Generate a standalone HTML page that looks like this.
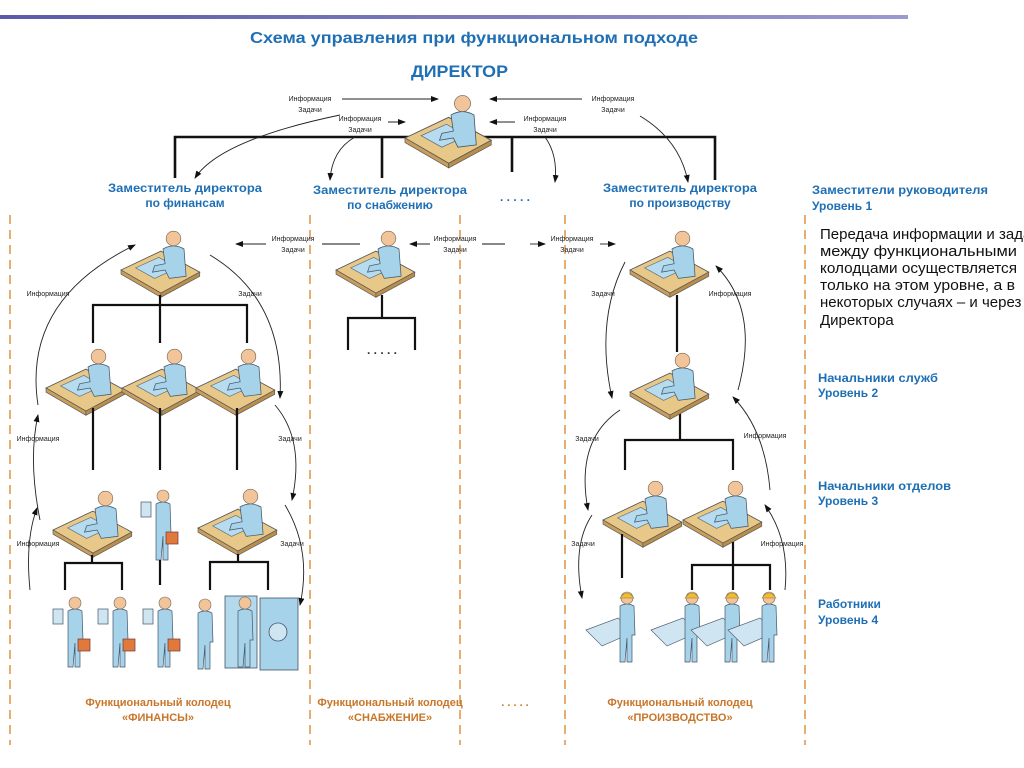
<!DOCTYPE html>
<html><head><meta charset="utf-8"><style>
html,body{margin:0;padding:0;background:#fff;width:1024px;height:768px;overflow:hidden}
svg{display:block}
text{font-family:"Liberation Sans",sans-serif}
.t{fill:#1f6fb5;font-weight:bold;font-size:12px}
.s{font-size:7px;fill:#222}
.o{fill:#c8762a;font-weight:bold;font-size:11px}
.k{stroke:#111;stroke-width:2.2;fill:none}
.a{stroke:#222;stroke-width:0.9;fill:none;marker-end:url(#ar)}
.d{stroke:#e39a4e;stroke-width:1.6;stroke-dasharray:9,6}
.b{fill:#111;font-size:15px}
</style></head><body>
<svg width="1024" height="768" viewBox="0 0 1024 768">
<defs>
<marker id="ar" markerWidth="8" markerHeight="8" refX="7" refY="4" orient="auto" markerUnits="userSpaceOnUse"><path d="M0,1 L8,4 L0,7 Z" fill="#111"/></marker>
<linearGradient id="pl" x1="0" x2="1"><stop offset="0" stop-color="#5a5aa8"/><stop offset="1" stop-color="#9a9ad0"/></linearGradient>
<g id="dp">
<path d="M0,40 L38,22 L75,42 L38,62 Z" fill="#e8c888" stroke="#555" stroke-width="0.8"/>
<path d="M0,40 L38,62 L38,66 L0,44 Z" fill="#c99e5c" stroke="#555" stroke-width="0.6"/>
<path d="M38,62 L75,42 L75,46 L38,66 Z" fill="#b98e4c" stroke="#555" stroke-width="0.6"/>
<path d="M14,38 L36,28 L54,38 L32,48 Z" fill="#b7dcef" stroke="#567" stroke-width="0.6"/>
<path d="M40,20 Q50,14 60,20 L62,46 L46,48 L42,40 L30,42 L32,36 L42,34 Z" fill="#a6d2ea" stroke="#456" stroke-width="0.7"/>
<circle cx="50" cy="10" r="7" fill="#f1c49a" stroke="#765" stroke-width="0.6"/>
</g>
<g id="sp">
<path d="M8,16 Q15,12 22,16 L23,45 L20,45 L20,72 L15,72 L15,48 L13,72 L8,72 L8,45 Z" fill="#a6d2ea" stroke="#456" stroke-width="0.7"/>
<circle cx="15" cy="8" r="6" fill="#f1c49a" stroke="#765" stroke-width="0.6"/>
</g>
<g id="fp"><use href="#sp"/><rect x="-7" y="14" width="10" height="15" fill="#cfe6f2" stroke="#456" stroke-width="0.7"/><rect x="18" y="44" width="12" height="12" fill="#e07a3c" stroke="#733" stroke-width="0.7"/></g>
<g id="wk"><path d="M-14,40 L18,28 L34,42 L2,56 Z" fill="#cfe6f2" stroke="#567" stroke-width="0.7"/><use href="#sp" transform="translate(12,0)"/><path d="M20,8 Q27,-2 34,8 Z" fill="#f2bf2a" stroke="#875" stroke-width="0.6"/></g>
</defs>
<rect x="0" y="15" width="908" height="4" fill="url(#pl)"/>
<text x="250" y="43" textLength="448" lengthAdjust="spacingAndGlyphs" style="fill:#1f6fb5;font-weight:bold;font-size:16px">Схема управления при функциональном подходе</text>
<text x="411" y="77" textLength="97" lengthAdjust="spacingAndGlyphs" style="fill:#1f6fb5;font-weight:bold;font-size:17px">ДИРЕКТОР</text>

<line class="d" x1="10" y1="215" x2="10" y2="745"/>
<line class="d" x1="310" y1="215" x2="310" y2="745"/>
<line class="d" x1="460" y1="215" x2="460" y2="745"/>
<line class="d" x1="565" y1="215" x2="565" y2="745"/>
<line class="d" x1="805" y1="215" x2="805" y2="745"/>

<path class="k" d="M175,178 V137 H715 V180 M382,137 V178 M512,137 V172" style="stroke-width:2.6"/>
<use href="#dp" transform="translate(405,92) scale(1.15)"/>
<text class="s" x="310" y="101" text-anchor="middle">Информация</text><text class="s" x="310" y="112" text-anchor="middle">Задачи</text>
<path class="a" d="M342,99 H438"/><path class="a" d="M340,115 Q220,140 195,178"/>
<text class="s" x="360" y="121" text-anchor="middle">Информация</text><text class="s" x="360" y="132" text-anchor="middle">Задачи</text>
<path class="a" d="M388,122 H405"/><path class="a" d="M355,137 Q332,150 330,180"/>
<text class="s" x="613" y="101" text-anchor="middle">Информация</text><text class="s" x="613" y="112" text-anchor="middle">Задачи</text>
<path class="a" d="M582,99 H490"/><path class="a" d="M640,116 Q680,140 688,182"/>
<text class="s" x="545" y="121" text-anchor="middle">Информация</text><text class="s" x="545" y="132" text-anchor="middle">Задачи</text>
<path class="a" d="M515,122 H490"/><path class="a" d="M545,137 Q558,155 555,182"/>

<text class="t" x="108" y="192" textLength="154" lengthAdjust="spacingAndGlyphs">Заместитель директора</text><text class="t" x="185" y="207" text-anchor="middle">по финансам</text>
<text class="t" x="313" y="194" textLength="154" lengthAdjust="spacingAndGlyphs">Заместитель директора</text><text class="t" x="390" y="209" text-anchor="middle">по снабжению</text>
<text class="t" x="515" y="201" text-anchor="middle">. . . . .</text>
<text class="t" x="603" y="192" textLength="154" lengthAdjust="spacingAndGlyphs">Заместитель директора</text><text class="t" x="680" y="207" text-anchor="middle">по производству</text>
<text class="t" x="812" y="194" textLength="176" lengthAdjust="spacingAndGlyphs">Заместители руководителя</text><text class="t" x="812" y="210">Уровень 1</text>

<text class="b" x="820" y="239">Передача информации и задач</text>
<text class="b" x="820" y="256" textLength="197" lengthAdjust="spacingAndGlyphs">между функциональными</text>
<text class="b" x="820" y="273" textLength="197" lengthAdjust="spacingAndGlyphs">колодцами осуществляется</text>
<text class="b" x="820" y="290" textLength="195" lengthAdjust="spacingAndGlyphs">только на этом уровне, а в</text>
<text class="b" x="820" y="307">некоторых случаях – и через</text>
<text class="b" x="820" y="325">Директора</text>

<text class="t" x="818" y="382" textLength="120" lengthAdjust="spacingAndGlyphs">Начальники служб</text><text class="t" x="818" y="397">Уровень 2</text>
<text class="t" x="818" y="490" textLength="133" lengthAdjust="spacingAndGlyphs">Начальники отделов</text><text class="t" x="818" y="505">Уровень 3</text>
<text class="t" x="818" y="608">Работники</text><text class="t" x="818" y="624">Уровень 4</text>

<use href="#dp" transform="translate(121,228) scale(1.05)"/>
<use href="#dp" transform="translate(336,228) scale(1.05)"/>
<use href="#dp" transform="translate(630,228) scale(1.05)"/>
<text class="s" x="293" y="241" text-anchor="middle">Информация</text><text class="s" x="293" y="252" text-anchor="middle">Задачи</text>
<path class="a" d="M266,244 H236"/><path class="k" style="stroke-width:0.9" d="M322,244 H360"/>
<text class="s" x="455" y="241" text-anchor="middle">Информация</text><text class="s" x="455" y="252" text-anchor="middle">Задачи</text>
<path class="a" d="M430,244 H410"/><path class="k" style="stroke-width:0.9" d="M482,244 H505"/>
<text class="s" x="572" y="241" text-anchor="middle">Информация</text><text class="s" x="572" y="252" text-anchor="middle">Задачи</text>
<path class="a" d="M530,244 H545"/><path class="a" d="M600,244 H615"/>

<path class="k" d="M382,295 V318 M348,350 V318 H415 V350"/>
<text class="t" x="382" y="354" text-anchor="middle" style="fill:#333">. . . . .</text>

<path class="k" d="M160,295 V305 M93,343 V305 H247 V343 M160,305 V343"/>
<use href="#dp" transform="translate(46,346) scale(1.05)"/><use href="#dp" transform="translate(122,346) scale(1.05)"/><use href="#dp" transform="translate(196,346) scale(1.05)"/>
<path class="k" d="M93,408 V470 M160,408 V470 M237,408 V470"/>
<use href="#dp" transform="translate(53,488) scale(1.05)"/>
<use href="#fp" transform="translate(148,488)"/>
<use href="#dp" transform="translate(198,486) scale(1.05)"/>
<path class="k" d="M92,555 V563 M65,590 V563 H122 V590 M160,560 V585 M238,554 V562 M210,590 V562 H268 V590"/>
<use href="#fp" transform="translate(60,595)"/><use href="#fp" transform="translate(105,595)"/><use href="#fp" transform="translate(150,595)"/>
<use href="#sp" transform="translate(190,597)"/>
<rect x="225" y="596" width="32" height="72" fill="#b3d9ec" stroke="#456" stroke-width="0.8"/>
<use href="#sp" transform="translate(230,595)"/>
<rect x="260" y="598" width="38" height="72" fill="#a6d2ea" stroke="#456" stroke-width="0.8"/>
<circle cx="278" cy="632" r="9" fill="#cfe6f2" stroke="#456" stroke-width="0.8"/>

<text class="s" x="48" y="296" text-anchor="middle">Информация</text>
<path class="a" d="M38,405 Q22,300 135,245"/>
<text class="s" x="38" y="441" text-anchor="middle">Информация</text>
<path class="a" d="M40,520 Q28,460 38,415"/>
<text class="s" x="38" y="546" text-anchor="middle">Информация</text>
<path class="a" d="M30,590 Q25,540 37,508"/>
<text class="s" x="250" y="296" text-anchor="middle">Задачи</text>
<path class="a" d="M210,255 Q285,300 280,398"/>
<text class="s" x="290" y="441" text-anchor="middle">Задачи</text>
<path class="a" d="M275,405 Q305,440 292,500"/>
<text class="s" x="292" y="546" text-anchor="middle">Задачи</text>
<path class="a" d="M285,505 Q312,550 300,605"/>

<path class="k" d="M677,295 V352 M680,408 V440 M625,470 V440 H733 V470"/>
<use href="#dp" transform="translate(630,350) scale(1.05)"/>
<use href="#dp" transform="translate(603,478) scale(1.05)"/><use href="#dp" transform="translate(683,478) scale(1.05)"/>
<path class="k" d="M622,534 V578 M733,542 V565 M692,590 V565 H770 V590 M733,565 V590"/>
<use href="#wk" transform="translate(600,590)"/><use href="#wk" transform="translate(665,590)"/><use href="#wk" transform="translate(705,590)"/><use href="#wk" transform="translate(742,590)"/>
<text class="s" x="603" y="296" text-anchor="middle">Задачи</text>
<path class="a" d="M625,262 Q595,320 612,398"/>
<text class="s" x="730" y="296" text-anchor="middle">Информация</text>
<path class="a" d="M738,390 Q760,310 716,266"/>
<text class="s" x="587" y="441" text-anchor="middle">Задачи</text>
<path class="a" d="M620,410 Q575,440 588,510"/>
<text class="s" x="765" y="438" text-anchor="middle">Информация</text>
<path class="a" d="M770,490 Q765,430 733,397"/>
<text class="s" x="583" y="546" text-anchor="middle">Задачи</text>
<path class="a" d="M592,515 Q572,545 582,598"/>
<text class="s" x="782" y="546" text-anchor="middle">Информация</text>
<path class="a" d="M785,590 Q790,540 765,505"/>

<text class="o" x="158" y="706" text-anchor="middle">Функциональный колодец</text><text class="o" x="158" y="721" text-anchor="middle">«ФИНАНСЫ»</text>
<text class="o" x="390" y="706" text-anchor="middle">Функциональный колодец</text><text class="o" x="390" y="721" text-anchor="middle">«СНАБЖЕНИЕ»</text>
<text class="o" x="515" y="706" text-anchor="middle">. . . . .</text>
<text class="o" x="680" y="706" text-anchor="middle">Функциональный колодец</text><text class="o" x="680" y="721" text-anchor="middle">«ПРОИЗВОДСТВО»</text>
</svg>
</body></html>
